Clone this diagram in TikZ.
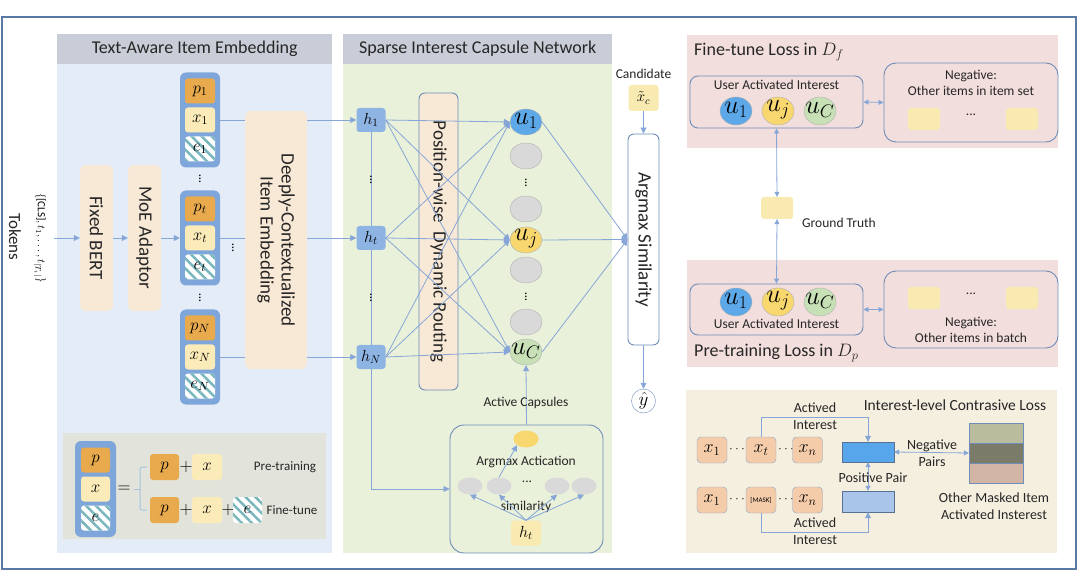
\documentclass[tikz,border=0pt]{standalone}
\usepackage{fix-cm}
\usepackage{fontspec}
\setmainfont{Carlito}
\usetikzlibrary{shapes.geometric, arrows.meta, positioning, fit, backgrounds, calc, patterns.meta}
\definecolor{framec}{HTML}{5A79A5}
\definecolor{headgray}{HTML}{C9CDD7}
\definecolor{embbg}{HTML}{E3ECF7}
\definecolor{capbg}{HTML}{E9F1DA}
\definecolor{beige}{HTML}{F8E9D7}
\definecolor{stackblue}{HTML}{7FA6DB}
\definecolor{porange}{HTML}{E8AA4C}
\definecolor{xyellow}{HTML}{FAEBB8}
\definecolor{hatchteal}{HTML}{79B7BD}
\definecolor{hblue}{HTML}{8EB4E3}
\definecolor{edgeblue}{HTML}{6E8DB8}
\definecolor{linkblue}{HTML}{86A6D8}
\definecolor{capblue}{HTML}{5DA8E9}
\definecolor{capyellow}{HTML}{F8D76E}
\definecolor{capgreen}{HTML}{C7E0B5}
\definecolor{capgray}{HTML}{D9D9D9}
\definecolor{lossbg}{HTML}{F2DEDC}
\definecolor{truthyellow}{HTML}{F8EAB0}
\definecolor{clbg}{HTML}{F5EFE0}
\definecolor{peach}{HTML}{F5CCAA}
\definecolor{posblue}{HTML}{57A6EC}
\definecolor{negblue}{HTML}{A9C5E9}
\definecolor{legendgray}{HTML}{E2E4DC}
\definecolor{bracec}{HTML}{A9C2E2}
\definecolor{bandA}{HTML}{B9BD9D}
\definecolor{bandB}{HTML}{7B7B69}
\definecolor{bandC}{HTML}{D3B5A5}

\begin{document}
\begin{tikzpicture}[
    x=1pt, y=-1pt,
    panel/.style={rectangle, fill=#1, inner sep=0pt, anchor=north west},
    head/.style={rectangle, fill=headgray, inner sep=0pt, anchor=north west, minimum height=30pt, font=\fontsize{18}{21}\selectfont, text=black!85},
    softbox/.style={rectangle, rounded corners=6pt, fill=beige, inner sep=0pt},
    rimbox/.style={rectangle, rounded corners=#1, draw=edgeblue, line width=0.9pt, inner sep=0pt},
    rimbox/.default=6pt,
    rottext/.style={rotate=-90, font=\fontsize{19}{21}\selectfont, align=center, text=black!85},
    stack/.style={rectangle, rounded corners=6pt, fill=stackblue, minimum width=40pt, minimum height=95pt},
    cell/.style={rectangle, rounded corners=3pt, minimum width=30pt, minimum height=25pt, inner sep=0pt, font=\fontsize{17}{17}\selectfont},
    pcell/.style={cell, fill=porange},
    xcell/.style={cell, fill=xyellow},
    ecell/.style={cell, preaction={fill=white}, pattern={Lines[angle=-45, distance=7pt, line width=2.5pt]}, pattern color=hatchteal},
    hbox/.style={rectangle, rounded corners=3pt, fill=hblue, minimum width=29pt, minimum height=24pt, inner sep=0pt, font=\fontsize{16}{16}\selectfont},
    capsule/.style={ellipse, draw=gray!60, fill=#1, minimum width=32pt, minimum height=26pt, inner sep=0pt},
    capname/.style={inner sep=0pt, font=\fontsize{26}{26}\selectfont, yshift=1pt},
    blob/.style={ellipse, fill=#1, minimum width=25pt, minimum height=17pt, inner sep=0pt},
    chip/.style={rectangle, rounded corners=3pt, fill=truthyellow, minimum width=32pt, minimum height=22pt, inner sep=0pt},
    tok/.style={rectangle, rounded corners=4pt, fill=peach, draw=edgeblue!80, minimum width=30pt, minimum height=26pt, inner sep=0pt, font=\fontsize{18}{18}\selectfont},
    lbl/.style={font=\fontsize{13.5}{16}\selectfont, text=black!85, align=center, inner sep=1pt},
    vdot/.style={inner sep=0pt, rotate=90, font=\fontsize{13}{13}\selectfont},
    title/.style={font=\fontsize{18}{21}\selectfont, text=black!85, anchor=west, inner sep=0pt},
    arr/.style={-{Triangle[length=6pt, width=6pt]}, linkblue, line width=0.8pt},
    dbl/.style={{Triangle[length=5pt, width=5pt]}-{Triangle[length=5pt, width=5pt]}, linkblue, line width=0.8pt},
    link/.style={linkblue, line width=0.8pt},
]
\useasboundingbox (0,0) rectangle (1080,588);

% ─── Panels ───
\begin{scope}[on background layer]
\node[panel=embbg, minimum width=275pt, minimum height=489pt] (embpanel) at (57,64) {};
\node[panel=capbg, minimum width=269pt, minimum height=489pt] (cappanel) at (343,64) {};
\node[panel=lossbg, minimum width=371pt, minimum height=113pt] (ftpanel) at (687,35) {};
\node[panel=lossbg, minimum width=371pt, minimum height=107pt] (ptpanel) at (687,260) {};
\node[panel=clbg, minimum width=371pt, minimum height=163pt] (clpanel) at (686,390) {};
\node[panel=legendgray, minimum width=263pt, minimum height=106pt] (legpanel) at (63,433) {};
\end{scope}
\draw[framec, line width=1.5pt] (2,17) rectangle (1076,569);
\node[head, minimum width=275pt] (embhead) at (57,34) {Text-Aware Item Embedding};
\node[head, minimum width=269pt] (caphead) at (343,34) {Sparse Interest Capsule Network};

% ─── Tokens, BERT, MoE ───
\node[rottext, font=\fontsize{17}{19}\selectfont] (tokens) at (15,237) {Tokens};
\node[rotate=-90, font=\fontsize{11}{13}\selectfont] (tokset) at (40,238) {$\{\mbox{[CLS]},t_1,\ldots,t_{|T_i|}\}$};
\coordinate (tokin) at (54,238);
\node[softbox, minimum width=33pt, minimum height=146pt] (bert) at (96.5,238) {};
\node[rottext] at (bert) {Fixed BERT};
\node[softbox, minimum width=33pt, minimum height=146pt] (moe) at (144.5,238) {};
\node[rottext] at (moe) {MoE Adaptor};

% ─── Item stacks ───
\foreach \n/\y in {1/120, t/238, N/357} {
  \node[stack] (stk\n) at (200,\y) {};
  \node[pcell] (p\n) at (200,\y-29) {$p_{\n}$};
  \node[xcell] (x\n) at (200,\y) {$x_{\n}$};
  \node[ecell] (e\n) at (200,\y+29) {$e_{\n}$};
}
\node[vdot] (sdots1) at (200,179) {...};
\node[vdot] (sdots2) at (200,298) {...};
\node[vdot] (sdots3) at (233,248) {...};

\draw[arr] (tokin) -- (bert.west);
\draw[arr] (bert.east) -- (moe.west);
\draw[arr] (moe.east) -- (stkt.west);

% ─── h nodes ───
\draw[link] (371,120) -- (371,489);
\node[hbox] (h1) at (371,120) {$h_1$};
\node[hbox] (ht) at (371,238) {$h_t$};
\node[hbox] (hN) at (371,357) {$h_N$};
\node[vdot] (hdots1) at (371,180) {...};
\node[vdot] (hdots2) at (371,298) {...};

\foreach \n in {1,t,N}
  \draw[arr] (x\n.east) -- (h\n.west);

\node[softbox, minimum width=62pt, minimum height=258pt] (deep) at (276,240) {};
\node[rottext] at (deep) {Deeply-Contextualized\\Item Embedding};

% ─── Routing and capsules ───
\node[rimbox, fill=beige, minimum width=39pt, minimum height=297pt] (route) at (438.5,241.5) {};
\node[rottext] at (route) {Position-wise\ \ Dynamic Routing};

\node[capsule=capblue, label={[capname]center:$u_1$}] (u1) at (526,122) {};
\node[capsule=capgray] (g1) at (526,156) {};
\node[vdot] (udots1) at (526,183) {...};
\node[capsule=capgray] (g2) at (526,209) {};
\node[capsule=capyellow, label={[capname]center:$u_j$}] (uj) at (526,240) {};
\node[capsule=capgray] (g3) at (526,270) {};
\node[vdot] (udots2) at (526,297) {...};
\node[capsule=capgray] (g4) at (526,322) {};
\node[capsule=capgreen, label={[capname]center:$u_C$}] (uC) at (526,352) {};

\foreach \a in {1,t,N}
  \foreach \b in {u1,uj,uC}
    \draw[arr] (h\a.east) -- (\b.west);

% ─── Argmax similarity ───
\node[rimbox, fill=white, minimum width=31pt, minimum height=211pt] (argmax) at (643.5,239.5) {};
\node[rottext] at (argmax) {Argmax Similarity};
\node[chip, minimum width=30pt, minimum height=26pt, font=\fontsize{15}{15}\selectfont] (cand) at (643.5,98) {$\tilde{x}_c$};
\node[lbl, above=5pt of cand] (candlbl) {Candidate};
\node[circle, draw=edgeblue, fill=white, minimum size=24pt, inner sep=0pt, font=\fontsize{19}{19}\selectfont] (yhat) at (643.5,401) {$\hat{y}$};
\draw[arr] (cand.south) -- (argmax.north);
\draw[arr] (argmax.south) -- (yhat.north);
\foreach \b in {u1,uj,uC}
  \draw[arr] (\b.east) -- (argmax.west);

% ─── Argmax activation ───
\node[rimbox=14pt, minimum width=153pt, minimum height=128pt] (act) at (526.5,489) {};
\node[blob=capyellow] (sel) at (526,439) {};
\node[lbl] (actlbl) at (526,462) {Argmax Actication};
\node[blob=capgray] (a1) at (470,486) {};
\node[blob=capgray] (a2) at (499,486) {};
\node[lbl] (adots) at (527,482) {...};
\node[blob=capgray] (a3) at (557,486) {};
\node[blob=capgray] (a4) at (584,486) {};
\node[lbl] (simlbl) at (526,507) {similarity};
\node[chip, minimum width=30pt, minimum height=25pt, font=\fontsize{16}{16}\selectfont] (hq) at (526,533) {$h_t$};
\foreach \g in {a1,a2,a3,a4}
  \draw[arr] (hq.north) -- (\g.south);
\draw[arr] (a2.north) -- (sel.south west);
\draw[arr] (act.north) -- (uC.south);
\node[lbl] (actcap) at (526,403) {Active Capsules};
\draw[arr] (371,489) -- (act.west);

% ─── Legend ───
\node[stack, minimum width=41pt, minimum height=96pt] (lstk) at (95.5,489) {};
\node[pcell, minimum width=29pt] (lp) at (95.5,460) {$p$};
\node[xcell, minimum width=29pt] (lx) at (95.5,489) {$x$};
\node[ecell, minimum width=29pt] (le) at (95.5,518) {$e$};
\node[font=\fontsize{18}{18}\selectfont] (eq) at (124,489) {$=$};
\node[pcell, minimum width=29pt, minimum height=26pt] (lp1) at (164.5,467) {$p$};
\node[font=\fontsize{18}{18}\selectfont] (pl1) at (186,467) {$+$};
\node[xcell, minimum width=30pt, minimum height=26pt] (lx1) at (207,467) {$x$};
\node[lbl, font=\fontsize{13}{15}\selectfont] (pretr) at (285,467) {Pre-training};
\node[pcell, minimum width=29pt, minimum height=26pt] (lp2) at (164.5,510) {$p$};
\node[font=\fontsize{18}{18}\selectfont] (pl2) at (186,510) {$+$};
\node[xcell, minimum width=30pt, minimum height=26pt] (lx2) at (207,510) {$x$};
\node[font=\fontsize{18}{18}\selectfont] (pl3) at (228,510) {$+$};
\node[ecell, minimum width=29pt, minimum height=26pt] (le2) at (247.5,510) {$e$};
\node[lbl, font=\fontsize{13}{15}\selectfont] (fine) at (292,510) {Fine-tune};
\coordinate (brc) at (140,489);
\draw[bracec, line width=1pt, rounded corners=2pt] ($(lp1.west)+(-3,0)$) -| (brc) |- ($(lp2.west)+(-3,0)$);
\draw[bracec, line width=1pt] (eq.east) -- (brc);

% ─── Fine-tune loss ───
\node[title] (fttitle) at (694,52) {Fine-tune Loss in $D_f$};
\node[rimbox=8pt, minimum width=173pt, minimum height=52pt] (uaiF) at (776.5,102) {};
\node[lbl] at (776.5,85) {User Activated Interest};
\node[capsule=capblue, minimum height=28pt, label={[capname]center:$u_1$}] (fu1) at (736,111) {};
\node[capsule=capyellow, minimum height=28pt, label={[capname]center:$u_j$}] (fuj) at (778,111) {};
\node[capsule=capgreen, minimum height=28pt, label={[capname]center:$u_C$}] (fuC) at (820,111) {};
\node[rimbox=12pt, minimum width=174pt, minimum height=79pt] (negF) at (971,102.5) {};
\node[lbl] at (971,83) {Negative:\\Other items in item set};
\node[chip] (nf1) at (924,119) {};
\node[lbl] at (971,115) {...};
\node[chip] (nf2) at (1022,119) {};
\draw[dbl] (uaiF.east) -- (negF.west);

% ─── Ground truth ───
\node[chip] (gt) at (777,208) {};
\node[lbl] (gtlbl) at (839,223) {Ground Truth};

% ─── Pre-training loss ───
\node[title] (pttitle) at (694,353) {Pre-training Loss in $D_p$};
\node[rimbox=8pt, minimum width=173pt, minimum height=51pt] (uaiP) at (776.5,309.5) {};
\node[capsule=capblue, minimum height=28pt, label={[capname]center:$u_1$}] (pu1) at (736,302) {};
\node[capsule=capyellow, minimum height=28pt, label={[capname]center:$u_j$}] (puj) at (778,302) {};
\node[capsule=capgreen, minimum height=28pt, label={[capname]center:$u_C$}] (puC) at (820,302) {};
\node[lbl] at (776.5,324) {User Activated Interest};
\node[rimbox=12pt, minimum width=174pt, minimum height=77pt] (negP) at (971,309.5) {};
\node[chip] (np1) at (924,298) {};
\node[lbl] at (971,294) {...};
\node[chip] (np2) at (1022,298) {};
\node[lbl] at (971,330) {Negative:\\Other items in batch};
\draw[dbl] (uaiP.east) -- (negP.west);
\draw[dbl] (uaiF.south) -- (gt.north);
\draw[dbl] (gt.south) -- (uaiP.north);

% ─── Contrastive loss ───
\node[lbl, font=\fontsize{15.5}{18}\selectfont] (cltitle) at (955,405) {Interest-level Contrasive Loss};
\node[tok] (s1) at (712,450) {$x_1$};
\node[lbl] at (737,449) {$\cdots$};
\node[tok] (st) at (761,450) {$x_t$};
\node[lbl] at (786,449) {$\cdots$};
\node[tok] (sn) at (807.5,450) {$x_n$};
\node[tok] (m1) at (712,500) {$x_1$};
\node[lbl] at (737,499) {$\cdots$};
\node[tok, font=\fontsize{7}{8}\selectfont] (mm) at (761,500) {[MASK]};
\node[lbl] at (786,499) {$\cdots$};
\node[tok] (mn) at (807.5,500) {$x_n$};
\node[rectangle, fill=posblue, draw=edgeblue!80!black, minimum width=52pt, minimum height=20pt] (posr) at (868,452) {};
\node[rectangle, fill=negblue, draw=edgeblue!80!black, minimum width=52pt, minimum height=21pt] (negr) at (868,501.5) {};
\node[rectangle, fill=bandA, draw=edgeblue, minimum width=54pt, minimum height=20pt] (bandt) at (996,433) {};
\node[rectangle, fill=bandB, draw=edgeblue, minimum width=54pt, minimum height=20pt] (bandm) at (996,453) {};
\node[rectangle, fill=bandC, draw=edgeblue, minimum width=54pt, minimum height=20pt] (bandb) at (996,473) {};
\draw[arr] (st.north) -- ++(0,-19) -| (posr.north);
\draw[arr] (mm.south) -- ++(0,19) -| (negr.south);
\node[lbl, font=\fontsize{14}{17}\selectfont] at (815,416) {Actived\\Interest};
\node[lbl, font=\fontsize{14}{17}\selectfont] at (815,531) {Actived\\Interest};
\draw[dbl] (posr.south) -- (negr.north);
\node[lbl, font=\fontsize{14}{15}\selectfont] at (873,478) {Positive Pair};
\draw[dbl] (posr.east) -- (bandm.west);
\node[lbl, font=\fontsize{14}{17}\selectfont] at (932,453) {Negative\\Pairs};
\node[lbl, font=\fontsize{14}{17}\selectfont] at (994,506) {Other Masked Item\\Activated Insterest};

\end{tikzpicture}
\end{document}
